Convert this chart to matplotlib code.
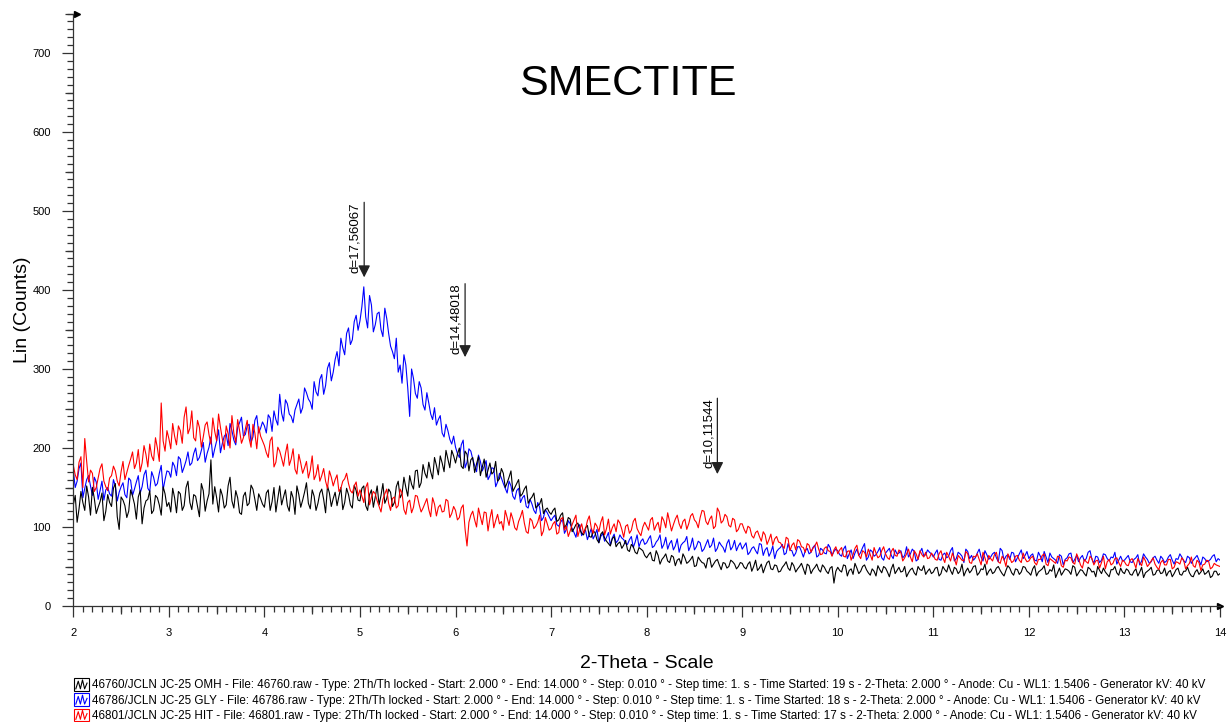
import numpy as np
import matplotlib
matplotlib.use("Agg")
import matplotlib.pyplot as plt
from matplotlib.ticker import MultipleLocator, NullFormatter
from matplotlib.legend_handler import HandlerBase
from matplotlib.patches import Rectangle
from matplotlib.lines import Line2D

plt.rcParams["font.family"] = ["Liberation Sans", "DejaVu Sans"]

# scan axis, 2-theta from 2 to 14 deg, values read every 0.02 deg
two_theta = np.round(np.linspace(2.0, 14.0, 601), 2)

# each scan is kept as two lists: points at 2.00, 2.04, ... and at 2.02, 2.06, ...
# one row per degree

# OMH scan (black)
omh_a = [
    128, 106, 145, 121, 138, 150, 117, 132, 108, 141, 126, 155, 97, 134, 112, 147, 129, 138, 104, 133, 146, 121, 137, 115, 142,
    131, 149, 118, 142, 127, 158, 122, 139, 113, 146, 133, 185, 151, 119, 140, 128, 163, 124, 137, 116, 144, 130, 148, 121, 136,
    125, 147, 132, 119, 152, 138, 127, 145, 116, 141, 134, 156, 123, 139, 130, 148, 118, 143, 136, 127, 150, 131, 141, 124, 146,
    133, 152, 121, 147, 138, 128, 155, 136, 144, 131, 158, 142, 150, 165, 148, 172, 156, 168, 182, 161, 178, 190, 170, 186, 197,
    181, 200, 174, 192, 185, 169, 189, 176, 163, 181, 170, 158, 174, 150, 163, 145, 155, 139, 148, 130, 138, 124, 129, 117, 124,
    116, 124, 109, 118, 103, 110, 98, 105, 92, 99, 88, 95, 84, 91, 86, 79, 85, 75, 81, 77, 71, 78, 68, 74, 70,
    61, 68, 57, 64, 59, 66, 55, 62, 58, 53, 61, 56, 63, 51, 58, 54, 60, 49, 57, 52, 55, 48, 58, 53, 50,
    54, 47, 56, 50, 45, 53, 49, 57, 46, 51, 44, 52, 48, 55, 43, 50, 47, 53, 41, 49, 46, 52, 44, 48, 29,
    49, 43, 51, 45, 40, 48, 44, 52, 42, 47, 38, 46, 50, 43, 47, 41, 49, 44, 37, 46, 42, 50, 45, 40, 47,
    43, 49, 41, 46, 52, 40, 47, 44, 38, 48, 45, 51, 42, 46, 39, 47, 43, 50, 41, 45, 48, 39, 46, 43, 49,
    42, 47, 38, 45, 51, 41, 44, 36, 48, 43, 46, 40, 49, 42, 45, 38, 47, 44, 50, 41, 43, 37, 46, 42, 48,
    41, 45, 39, 47, 43, 36, 44, 49, 40, 46, 42, 38, 45, 41, 48, 39, 44, 42, 37, 46, 43, 40, 45, 38, 44,
    41,
]
omh_b = [
    140, 123, 131, 152, 115, 136, 125, 143, 120, 131, 149, 113, 138, 127, 120, 139, 110, 146, 124, 135, 117, 140, 128, 151, 126,
    119, 137, 145, 121, 150, 131, 141, 126, 155, 120, 142, 129, 137, 148, 124, 152, 133, 146, 118, 139, 127, 153, 135, 142, 129,
    143, 121, 150, 136, 128, 147, 120, 137, 152, 125, 144, 130, 147, 121, 143, 135, 152, 126, 144, 139, 122, 149, 128, 153, 134,
    149, 127, 141, 125, 152, 140, 130, 148, 126, 151, 137, 163, 139, 154, 171, 150, 179, 162, 170, 188, 166, 181, 197, 175, 190,
    192, 177, 196, 171, 188, 180, 165, 186, 172, 167, 183, 161, 168, 156, 171, 150, 160, 142, 152, 135, 143, 127, 136, 122, 119,
    121, 107, 115, 99, 112, 94, 103, 97, 90, 102, 87, 93, 80, 94, 82, 76, 88, 79, 73, 83, 69, 75, 66, 72, 64,
    65, 58, 70, 53, 62, 57, 64, 51, 60, 66, 54, 59, 50, 62, 55, 48, 61, 53, 59, 46, 54, 50, 56, 47, 55,
    49, 53, 44, 58, 48, 42, 55, 47, 52, 43, 49, 56, 45, 51, 47, 54, 40, 51, 46, 53, 43, 49, 41, 50, 44,
    45, 52, 38, 47, 54, 41, 50, 46, 39, 44, 51, 42, 48, 37, 53, 45, 43, 50, 42, 48, 39, 46, 51, 44, 41,
    48, 38, 50, 43, 45, 49, 41, 53, 44, 42, 50, 39, 47, 53, 44, 41, 48, 45, 38, 51, 42, 47, 40, 50, 44,
    39, 51, 43, 47, 40, 46, 52, 42, 39, 47, 44, 51, 38, 46, 41, 49, 43, 37, 45, 48, 40, 46, 50, 39, 43,
    47, 40, 44, 38, 49, 42, 46, 39, 45, 41, 48, 43, 37, 46, 40, 44, 49, 38, 43, 40, 47, 42, 36, 44, 39,
]

# GLY scan (blue)
gly_a = [
    172, 158, 181, 149, 165, 140, 157, 146, 134, 150, 139, 152, 144, 156, 137, 159, 148, 165, 151, 172, 145, 163, 155, 178, 160,
    170, 182, 165, 186, 176, 195, 181, 200, 188, 207, 193, 214, 199, 223, 206, 218, 231, 210, 226, 239, 217, 230, 214, 241, 225,
    228, 242, 221, 236, 268, 234, 256, 240, 248, 262, 251, 270, 258, 284, 266, 293, 279, 308, 296, 322, 339, 318, 352, 337, 368,
    361, 404, 352, 381, 356, 372, 341, 364, 329, 313, 296, 282, 305, 240, 288, 263, 276, 248, 257, 236, 229, 241, 214, 222, 205,
    201, 188, 210, 182, 196, 178, 191, 171, 184, 165, 174, 157, 162, 149, 158, 139, 146, 131, 140, 124, 129, 117, 125, 112, 118,
    108, 115, 101, 110, 97, 104, 93, 100, 89, 96, 91, 85, 97, 88, 82, 93, 86, 80, 90, 84, 78, 88, 81, 75, 85,
    80, 89, 76, 84, 73, 87, 79, 71, 85, 77, 82, 70, 86, 75, 80, 72, 84, 77, 69, 81, 74, 79, 71, 83, 76,
    72, 80, 68, 75, 66, 78, 71, 63, 76, 69, 74, 65, 79, 70, 67, 75, 62, 73, 68, 77, 64, 71, 66, 74, 69,
    70, 63, 76, 66, 60, 72, 68, 79, 62, 69, 65, 74, 58, 70, 64, 71, 67, 61, 75, 66, 69, 59, 73, 65, 68,
    62, 71, 58, 67, 63, 74, 60, 66, 55, 69, 64, 61, 72, 57, 65, 62, 68, 56, 70, 63, 59, 67, 61, 71, 64,
    60, 66, 57, 63, 69, 55, 62, 58, 65, 52, 61, 67, 59, 56, 64, 60, 70, 54, 62, 58, 65, 57, 61, 53, 63,
    58, 64, 55, 61, 52, 66, 59, 56, 63, 54, 60, 57, 65, 53, 59, 62, 55, 61, 58, 64, 52, 60, 57, 63, 56,
    58,
]
gly_b = [
    150, 174, 137, 160, 152, 163, 135, 158, 147, 142, 160, 133, 151, 141, 162, 140, 157, 143, 166, 149, 170, 152, 168, 147, 171,
    163, 177, 189, 169, 184, 178, 193, 184, 197, 182, 201, 188, 209, 194, 215, 203, 222, 204, 232, 215, 228, 207, 235, 219, 233,
    219, 238, 247, 229, 244, 261, 243, 232, 255, 244, 276, 262, 249, 271, 287, 268, 301, 285, 312, 304, 327, 345, 331, 360, 349,
    379, 366, 393, 347, 370, 350, 377, 345, 322, 339, 305, 318, 276, 300, 269, 284, 255, 270, 243, 251, 236, 219, 230, 211, 215,
    193, 204, 175, 199, 186, 170, 183, 177, 160, 175, 151, 168, 155, 143, 152, 135, 149, 137, 126, 135, 121, 131, 108, 122, 113,
    112, 103, 106, 92, 108, 98, 87, 103, 94, 84, 98, 90, 80, 92, 87, 77, 91, 83, 86, 79, 84, 74, 90, 82, 78,
    85, 74, 81, 90, 78, 72, 83, 76, 68, 80, 88, 76, 71, 82, 69, 78, 74, 86, 73, 77, 68, 84, 75, 70, 80,
    76, 65, 73, 70, 79, 64, 74, 68, 60, 72, 78, 67, 71, 63, 75, 69, 70, 66, 74, 62, 73, 67, 78, 64, 72,
    65, 72, 60, 71, 67, 64, 74, 58, 71, 63, 69, 61, 67, 73, 60, 66, 70, 64, 62, 72, 57, 68, 63, 71, 66,
    67, 59, 65, 61, 70, 57, 68, 63, 72, 60, 58, 67, 62, 70, 59, 66, 61, 73, 58, 65, 68, 56, 66, 60, 69,
    64, 58, 68, 56, 62, 67, 60, 54, 63, 59, 66, 55, 64, 61, 57, 68, 59, 63, 55, 66, 60, 62, 68, 58, 57,
    61, 56, 59, 65, 57, 62, 54, 61, 58, 63, 55, 62, 58, 60, 66, 57, 63, 54, 61, 58, 62, 56, 59, 65, 60,
]

# HIT scan (red)
hit_a = [
    178, 160, 189, 212, 157, 168, 150, 174, 158, 146, 165, 171, 152, 183, 169, 186, 174, 198, 181, 192, 205, 184, 200, 257, 196,
    212, 231, 204, 222, 239, 218, 247, 209, 226, 214, 233, 205, 221, 243, 211, 228, 200, 219, 236, 206, 224, 212, 230, 199, 215,
    203, 188, 214, 182, 196, 177, 205, 186, 173, 192, 168, 183, 172, 160, 179, 165, 158, 171, 152, 166, 149, 161, 155, 143, 157,
    147, 131, 156, 138, 142, 126, 135, 148, 121, 138, 127, 143, 116, 134, 125, 139, 119, 130, 122, 137, 114, 128, 120, 133, 117,
    121, 112, 128, 76, 115, 109, 124, 103, 118, 111, 99, 116, 107, 121, 102, 110, 96, 113, 105, 92, 108, 101, 115, 95, 104,
    98, 107, 93, 112, 101, 95, 109, 88, 104, 97, 114, 92, 101, 106, 90, 110, 99, 94, 105, 87, 103, 96, 111, 93, 100,
    101, 109, 96, 106, 113, 99, 107, 103, 115, 98, 110, 104, 117, 106, 112, 120, 103, 114, 101, 119, 108, 113, 100, 109, 97,
    104, 92, 99, 86, 95, 82, 90, 84, 77, 88, 80, 73, 85, 77, 71, 82, 74, 79, 68, 76, 72, 66, 75, 69, 71,
    66, 74, 62, 70, 65, 77, 60, 68, 72, 58, 67, 63, 75, 61, 69, 64, 71, 57, 66, 62, 70, 59, 65, 68, 61,
    64, 58, 70, 55, 63, 67, 52, 61, 57, 66, 54, 62, 59, 68, 53, 60, 65, 56, 63, 50, 61, 57, 64, 55, 60,
    57, 63, 52, 59, 66, 51, 58, 54, 62, 49, 57, 61, 53, 60, 48, 56, 63, 52, 58, 55, 47, 59, 54, 61, 50,
    56, 51, 60, 48, 55, 62, 50, 57, 53, 46, 58, 52, 59, 49, 55, 61, 47, 54, 51, 58, 45, 53, 57, 49, 52,
    50,
]
hit_b = [
    166, 182, 150, 183, 172, 145, 162, 180, 151, 162, 177, 158, 170, 160, 178, 195, 181, 170, 203, 176, 190, 213, 183, 209, 222,
    199, 215, 228, 206, 252, 225, 213, 235, 201, 229, 217, 238, 209, 226, 198, 218, 241, 207, 222, 213, 235, 201, 219, 227, 209,
    194, 209, 176, 201, 187, 193, 178, 199, 167, 181, 175, 162, 190, 166, 158, 174, 149, 163, 160, 145, 158, 168, 146, 152, 139,
    139, 150, 128, 145, 133, 119, 142, 130, 136, 124, 148, 122, 131, 118, 140, 128, 124, 136, 113, 129, 125, 119, 135, 112, 126,
    109, 124, 97, 106, 120, 100, 113, 119, 95, 122, 108, 104, 96, 112, 118, 99, 107, 121, 94, 111, 98, 106, 89, 112, 96,
    104, 91, 110, 96, 88, 103, 115, 97, 92, 108, 99, 105, 94, 113, 98, 91, 104, 109, 97, 101, 92, 107, 98, 89, 106,
    96, 112, 102, 93, 108, 118, 95, 110, 104, 107, 97, 114, 109, 99, 121, 107, 110, 98, 124, 105, 116, 102, 111, 94, 104,
    97, 101, 89, 93, 88, 94, 78, 91, 85, 81, 76, 87, 70, 80, 84, 75, 68, 77, 73, 81, 65, 73, 70, 63, 75,
    71, 63, 69, 58, 73, 64, 70, 62, 65, 74, 61, 70, 66, 59, 73, 63, 68, 61, 72, 56, 66, 70, 62, 60, 67,
    59, 66, 61, 68, 57, 60, 64, 58, 69, 55, 63, 66, 52, 61, 64, 57, 68, 54, 59, 66, 55, 63, 58, 67, 56,
    61, 55, 59, 64, 53, 60, 56, 63, 51, 58, 62, 55, 66, 52, 59, 54, 60, 57, 48, 63, 56, 52, 60, 55, 58,
    52, 58, 55, 60, 51, 57, 53, 61, 49, 55, 52, 59, 47, 56, 53, 58, 51, 62, 49, 55, 52, 58, 47, 54, 51,
]

# d-spacing markers: position (2-theta), label, arrow tip and top in counts
peak_pos = [5.044, 6.10, 8.74]
peak_labels = ["d=17,56067", "d=14,48018", "d=10,11544"]
peak_tip = [416, 315, 167]
peak_top = [511, 408, 263]

meta = " - Type: 2Th/Th locked - Start: 2.000 ° - End: 14.000 ° - Step: 0.010 ° - Step time: 1. s - Time Started: {} s - 2-Theta: 2.000 ° - Anode: Cu - WL1: 1.5406 - Generator kV: 40 kV"
legend_labels = [
    "46760/JCLN JC-25 OMH - File: 46760.raw" + meta.format(19),
    "46786/JCLN JC-25 GLY - File: 46786.raw" + meta.format(18),
    "46801/JCLN JC-25 HIT - File: 46801.raw" + meta.format(17),
]
colors = ["black", "#0000ff", "#ff0000"]


def merge(a, b):
    out = np.empty(len(a) + len(b))
    out[0::2] = a
    out[1::2] = b
    return out


class ScanIcon(HandlerBase):
    # little boxed zigzag like the diffractometer software draws
    def create_artists(self, legend, orig_handle, xdescent, ydescent, width, height, fontsize, trans):
        c = orig_handle.get_color()
        x0, y0 = -xdescent, -ydescent
        box = Rectangle((x0, y0), width, height, fill=False, ec=c, lw=0.8, transform=trans)
        zx = np.array([0.12, 0.28, 0.42, 0.56, 0.70, 0.86])
        zy = np.array([0.15, 0.75, 0.15, 0.85, 0.15, 0.6])
        zig = Line2D(x0 + zx * width, y0 + zy * height, color=c, lw=0.8, transform=trans)
        return [box, zig]


W, H = 1228, 722
fig = plt.figure(figsize=(W / 100, H / 100), dpi=100)
ax = fig.add_axes([73.3 / W, 1 - 606 / H, (1220 - 73.3) / W, (606 - 13.5) / H])

ax.plot(two_theta, merge(gly_a, gly_b), color=colors[1], lw=0.8)
ax.plot(two_theta, merge(omh_a, omh_b), color=colors[0], lw=0.8)
ax.plot(two_theta, merge(hit_a, hit_b), color=colors[2], lw=0.8)

ax.set_xlim(2, 14)
ax.set_ylim(0, 750)
for s in ["top", "right"]:
    ax.spines[s].set_visible(False)
for s in ["left", "bottom"]:
    ax.spines[s].set_color("#333333")
    ax.spines[s].set_linewidth(0.9)

ax.xaxis.set_major_locator(MultipleLocator(1))
ax.xaxis.set_minor_locator(MultipleLocator(0.1))
ax.yaxis.set_minor_locator(MultipleLocator(10))
ax.set_yticks(np.arange(0, 701, 100))
ax.tick_params(axis="both", which="major", length=8, width=0.9, color="#333333", labelsize=8, pad=8)
ax.tick_params(axis="both", which="minor", length=4, width=0.9, color="#333333")

# medium ticks at the half steps
secx = ax.secondary_xaxis("bottom")
secx.set_xticks(np.arange(2.5, 14, 1))
secx.xaxis.set_major_formatter(NullFormatter())
secx.tick_params(length=6, width=0.9, color="#333333")
secx.spines["bottom"].set_visible(False)
secy = ax.secondary_yaxis("left")
secy.set_yticks(np.arange(50, 751, 100))
secy.yaxis.set_major_formatter(NullFormatter())
secy.tick_params(length=6, width=0.9, color="#333333")
secy.spines["left"].set_visible(False)

# arrow ends on the axes
ax.plot([1], [0], marker=">", ms=5, color="black", transform=ax.transAxes, clip_on=False)
ax.plot([0.003], [1], marker=">", ms=5, color="black", transform=ax.transAxes, clip_on=False)

ax.set_xlabel("2-Theta - Scale", fontsize=14, labelpad=12)
ax.set_ylabel("Lin (Counts)", fontsize=14, labelpad=1)

ax.text(7.8, 661, "SMECTITE", fontsize=31, ha="center", va="center")

for x, lab, tip, top in zip(peak_pos, peak_labels, peak_tip, peak_top):
    ax.annotate("", xy=(x, tip), xytext=(x, top),
                arrowprops=dict(arrowstyle="-|>,head_length=0.6,head_width=0.3", color="#222222",
                                lw=0.9, shrinkA=0, shrinkB=0, mutation_scale=12))
    ax.annotate(lab, xy=(x, top), xytext=(-2, 0), textcoords="offset points",
                rotation=90, ha="right", va="top", fontsize=9.5)

handles = [Line2D([], [], color=c) for c in colors]
fig.legend(handles, legend_labels, handler_map={Line2D: ScanIcon()},
           loc="upper left", bbox_to_anchor=(74 / W, 1 - 678 / H), frameon=False,
           fontsize=8.4, handlelength=1.3, handleheight=1.3, handletextpad=0.2,
           labelspacing=0.17, borderpad=0, borderaxespad=0)

fig.savefig("out.png", dpi=100)
